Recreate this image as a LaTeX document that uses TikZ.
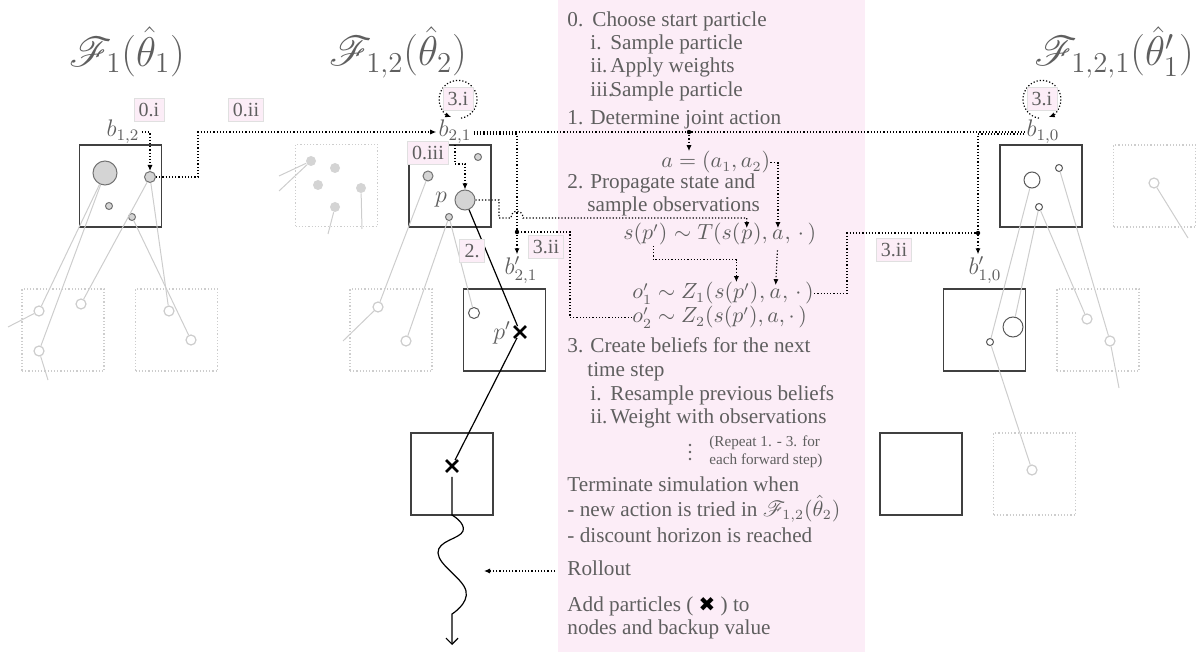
\documentclass[tikz,border=0pt]{standalone}
\usepackage{amsmath,amssymb}
\usepackage{mathrsfs}
\usepackage{fontspec}
\setmainfont{Liberation Serif}
\newfontfamily\symfont{DejaVu Sans}
\usetikzlibrary{arrows.meta,shapes.misc,calc}
\definecolor{pinkbg}{RGB}{252,237,247}
\definecolor{txtgray}{RGB}{95,95,95}
\definecolor{ghostgray}{RGB}{205,205,205}
\definecolor{partgray}{RGB}{212,212,212}

\begin{document}
\begin{tikzpicture}[x=0.5pt, y=-0.5pt, text=txtgray,
  font=\fontsize{10.6}{12}\selectfont,
  treetitle/.style={font=\fontsize{22.5}{26}\selectfont, inner sep=0pt},
  belief/.style={draw=black!75, line width=0.75pt, minimum size=41pt, inner sep=0pt},
  ghostbox/.style={draw=ghostgray, densely dotted, line width=0.6pt, minimum size=41pt, inner sep=0pt},
  particle/.style={circle, draw=black!55, fill=partgray, line width=0.5pt, inner sep=0pt, minimum size=#1},
  openparticle/.style={circle, draw=black!65, fill=white, line width=0.5pt, inner sep=0pt, minimum size=#1},
  faintparticle/.style={circle, draw=ghostgray, fill=white, line width=0.6pt, inner sep=0pt, minimum size=#1},
  ghostdot/.style={circle, fill=partgray, inner sep=0pt, minimum size=#1},
  link/.style={draw=ghostgray, line width=0.5pt},
  solidlink/.style={draw=black, line width=0.6pt},
  flowline/.style={densely dotted, line width=0.6pt, -{Latex[length=3pt,width=2.6pt]}},
  joinline/.style={densely dotted, line width=0.6pt},
  steptag/.style={fill=pinkbg, draw=black!12, inner sep=2.4pt, font=\fontsize{10}{11}\selectfont},
  loopring/.style={circle, minimum size=19pt, inner sep=0pt},
  xmark/.style={cross out, draw=black, line width=1.4pt, minimum size=4.5pt, inner sep=0pt},
  bl/.style={inner sep=1pt, font=\fontsize{11.5}{12}\selectfont},
  txt/.style={anchor=west, inner sep=0pt, text height=0.7em, text depth=0.25em},
  formula/.style={anchor=base west, inner sep=0pt},
  note/.style={anchor=west, inner sep=0pt, align=left, font=\fontsize{7.6}{9}\selectfont}]
  \useasboundingbox (0,0) rectangle (1200,652);
  \fill[pinkbg] (558,0) rectangle (865,652);

  % titles
  \node[treetitle] (ttl1) at (127,52) {$\mathscr{F}_1(\hat{\theta}_1)$};
  \node[treetitle] (ttl2) at (398,52) {$\mathscr{F}_{1,2}(\hat{\theta}_2)$};
  \node[treetitle] (ttl3) at (1114,52) {$\mathscr{F}_{1,2,1}(\hat{\theta}'_1)$};

  % belief nodes
  \node[belief] (B12) at (120.5,186) {};
  \node[belief] (B21) at (450,186) {};
  \node[belief] (B21p) at (504.5,330) {};
  \node[belief] (B21pp) at (452,474) {};
  \node[belief] (B10) at (1041,186) {};
  \node[belief] (B10p) at (984.5,330) {};
  \node[belief] (B10pp) at (921,474) {};
  \node[ghostbox] (gA) at (63,330) {};
  \node[ghostbox] (gB) at (176.5,330) {};
  \node[ghostbox] (gC) at (336.5,185.5) {};
  \node[ghostbox] (gD) at (391,330) {};
  \node[ghostbox] (gE) at (1154.5,186) {};
  \node[ghostbox] (gF) at (1098,330) {};
  \node[ghostbox] (gG) at (1034.5,474) {};

  % tree 1
  \node[particle=12pt] (a1) at (105,173) {};
  \node[particle=5.5pt] (a2) at (150,177) {};
  \node[particle=3.5pt] (a3) at (109,206) {};
  \node[particle=3.5pt] (a4) at (132,217) {};
  \node[faintparticle=5pt] (g1) at (39,311) {};
  \node[faintparticle=5pt] (g2) at (39,351) {};
  \node[faintparticle=5pt] (g3) at (81,304) {};
  \node[faintparticle=5pt] (g4) at (169,311) {};
  \node[faintparticle=5pt] (g5) at (191,340) {};
  \coordinate (g1s) at (8,327);
  \coordinate (g2s) at (48,380);
  \foreach \u/\v in {a1/g1,a1/g2,a2/g3,a2/g4,a4/g5,g1/g1s,g2/g2s} \draw[link] (\u) -- (\v);

  % tree 2
  \node[ghostdot=5pt] (f1) at (311,161) {};
  \node[ghostdot=5pt] (f2) at (335,168) {};
  \node[ghostdot=5pt] (f3) at (318,185) {};
  \node[ghostdot=5pt] (f4) at (361,188) {};
  \node[ghostdot=5pt] (f5) at (335,207) {};
  \coordinate (f1s) at (279,176);
  \coordinate (f1t) at (279,191);
  \coordinate (f4s) at (362,229);
  \coordinate (f5s) at (328,234);
  \node[particle=3.5pt] (b1) at (478,157) {};
  \node[particle=5pt] (b2) at (428,176) {};
  \node[particle=10pt] (p) at (465,200) {};
  \node[particle=3.5pt] (b3) at (449,217) {};
  \node[faintparticle=5pt] (h1) at (378,307) {};
  \node[faintparticle=5pt] (h2) at (406,341) {};
  \node[openparticle=5.5pt] (c1) at (474,313) {};
  \coordinate (h1s) at (343,341);
  \foreach \u/\v in {f1/f1s,f1/f1t,f4/f4s,f5/f5s,b2/h1,b3/h2,b3/c1,h1/h1s} \draw[link] (\u) -- (\v);

  % tree 3
  \node[openparticle=8pt] (e1) at (1032,180) {};
  \node[openparticle=3.5pt] (e2) at (1059,168) {};
  \node[openparticle=3.5pt] (e3) at (1039,207) {};
  \node[openparticle=10pt] (e4) at (1013,327) {};
  \node[openparticle=3.5pt] (e5) at (990,342) {};
  \node[faintparticle=5pt] (k1) at (1087,319) {};
  \node[faintparticle=5pt] (k2) at (1110,341) {};
  \node[faintparticle=5pt] (k3) at (1032,470) {};
  \node[faintparticle=5pt] (k4) at (1154,183) {};
  \coordinate (k2s) at (1119,388);
  \coordinate (k4s) at (1188,238);
  \foreach \u/\v in {e1/e5,e3/e4,e3/k1,e2/k2,e5/k3,k2/k2s,k4/k4s} \draw[link] (\u) -- (\v);

  % labels
  \node[bl] (lb12) at (123,132) {$b_{1,2}$};
  \node[bl] (lb21) at (455,132) {$b_{2,1}$};
  \node[bl] (lb10) at (1043,132) {$b_{1,0}$};
  \node[bl] (lb21p) at (521,270) {$b'_{2,1}$};
  \node[bl] (lb10p) at (985,270) {$b'_{1,0}$};
  \node[bl] (lp) at (441,200) {$p$};
  \node[bl] (lpp) at (502,333) {$p'$};

  % simulated particles
  \node[xmark] (x1) at (520,332) {};
  \node[xmark] (x2) at (452,466) {};
  \coordinate (rollend) at (452,645);
  \coordinate (rollin) at (484,571);
  \draw[solidlink] (p) -- (x1);
  \draw[solidlink] (x1) -- (x2);
  \draw[solidlink, -{Straight Barb[length=3pt,width=6pt]}, shorten <=2.5pt] (x2.south)
    -- plot[smooth, tension=0.75] coordinates {(452,515) (463,531) (438,553) (466,591) (452,614)}
    -- (rollend);

  % text of the steps
  \node[txt] (s0) at (567,22) {\makebox[12.5pt][l]{0.}Choose start particle};
  \node[txt] (s0i) at (590,45) {\makebox[10pt][l]{i.}Sample particle};
  \node[txt] (s0ii) at (590,68) {\makebox[10pt][l]{ii.}Apply weights};
  \node[txt] (s0iii) at (590,92) {\makebox[10pt][l]{iii.}Sample particle};
  \node[txt] (s1) at (567,120) {1. Determine joint action};
  \node[formula] (act) at (661,168) {$a = (a_1, a_2)$};
  \node[txt] (s2) at (567,184) {2. Propagate state and};
  \node[txt] (s2b) at (587,207) {sample observations};
  \node[formula] (T1) at (623,240) {$s(p')$};
  \node[formula] (T2) at (T1.base east) {$\;\sim T(s($};
  \node[formula] (T3) at (T2.base east) {$p$};
  \node[formula] (T4) at (T3.base east) {$),\,$};
  \node[formula] (T5) at (T4.base east) {$a$};
  \node[formula] (T6) at (T5.base east) {$,\,\cdot\,)$};
  \node[formula] (Z1a) at (632,299) {$o'_1 \sim Z_1($};
  \node[formula] (Z1b) at (Z1a.base east) {$s(p')$};
  \node[formula] (Z1c) at (Z1b.base east) {$,\,$};
  \node[formula] (Z1d) at (Z1c.base east) {$a$};
  \node[formula] (Z1e) at (Z1d.base east) {$,\,\cdot\,)$};
  \node[formula] (Z2) at (632,323) {$o'_2 \sim Z_2(s(p'), a, \cdot\,)$};
  \node[txt] (s3) at (567,348) {3. Create beliefs for the next};
  \node[txt] (s3b) at (587,372) {time step};
  \node[txt] (s3i) at (590,396) {\makebox[10pt][l]{i.}Resample previous beliefs};
  \node[txt] (s3ii) at (590,419) {\makebox[10pt][l]{ii.}Weight with observations};
  \coordinate (vd) at (690,452);
  \foreach \k in {-1,0,1} \fill[txtgray] ($(vd)+(0,\k*7)$) circle (1.3);
  \node[note] (rep) at (709,452) {(Repeat 1. - 3. for\\each forward step)};
  \node[txt] (term) at (567,487) {Terminate simulation when};
  \node[txt] (term1) at (567,512) {- new action is tried in \smash{$\mathscr{F}_{1,2}(\hat{\theta}_2)$}};
  \node[txt] (term2) at (567,538) {- discount horizon is reached};
  \node[txt] (roll) at (567,571) {Rollout};
  \node[txt] (add1) at (567,607) {Add particles ( {\color{black}\symfont\fontsize{10}{10}\selectfont ✖} ) to};
  \node[txt] (add2) at (567,630) {nodes and backup value};

  % junctions
  \coordinate (ja) at (689,132);
  \coordinate (j21) at (517,232);
  \coordinate (j10) at (978,233);

  % 0. choose start particle
  \draw[flowline] (lb12.east) -| (a2.north);
  \draw[flowline] (a2.east) -- (198,177) |- (lb21.west);
  \node[steptag] (t0iii) at (428,153) {0.iii};
  \draw[flowline] ([xshift=3pt,yshift=-2pt]t0iii.north east) -- ++(0,19) -| (p.north);
  % 1. joint action
  \draw[joinline] (lb21.east) -- (lb10.west);
  \draw[flowline] (ja) -- (ja |- act.north);
  % 2. propagate
  \draw[flowline, shorten >=1pt] (p.east) -- (499,200) -- (499,218) -- (511,218)
    .. controls (511,209) and (523,209) .. (523,218) -| (T3.north);
  \draw[flowline, shorten >=1pt] (act.east) -| (T5.north);
  \draw[flowline] ([xshift=4pt]T1.south) -- ++(0,14) -| (Z1b.north);
  \draw[flowline, shorten <=5pt, shorten >=2pt] (T5.south) -- (Z1d.north);
  % 3. new beliefs
  \draw[flowline] ([yshift=-1pt]lb21.east) -| (j21) -- (j21 |- lb21p.north);
  \draw[joinline] (Z2.west) -| (570,232) -- (j21);
  \draw[flowline] ([yshift=-1pt]lb10.west) -| (j10) -- (j10 |- lb10p.north);
  \draw[joinline] (Z1e.east) -| (847,233) -- (j10);
  \foreach \j in {ja,j21,j10} \fill (\j) circle (2.2);
  % rollout
  \draw[flowline, shorten <=6pt] (roll.west) -- (rollin);

  % 3.i loops
  \node[loopring] (r21) at (458,99) {};
  \node[loopring] (r10) at (1042,99) {};
  \draw[flowline] (r21.-81) arc[start angle=81, end angle=-249, radius=19];
  \draw[flowline] (r10.-99) arc[start angle=99, end angle=429, radius=19];

  % step tags
  \node[steptag] (t0i) at (149,110) {0.i};
  \node[steptag] (t0ii) at (246,110) {0.ii};
  \node[steptag] (t3i) at (458,99) {3.i};
  \node[steptag] (t3ib) at (1042,99) {3.i};
  \node[steptag] (t2) at (472,251) {2.};
  \node[steptag] (t3ii) at (546,247) {3.ii};
  \node[steptag] (t3iib) at (894,250) {3.ii};
\end{tikzpicture}
\end{document}
